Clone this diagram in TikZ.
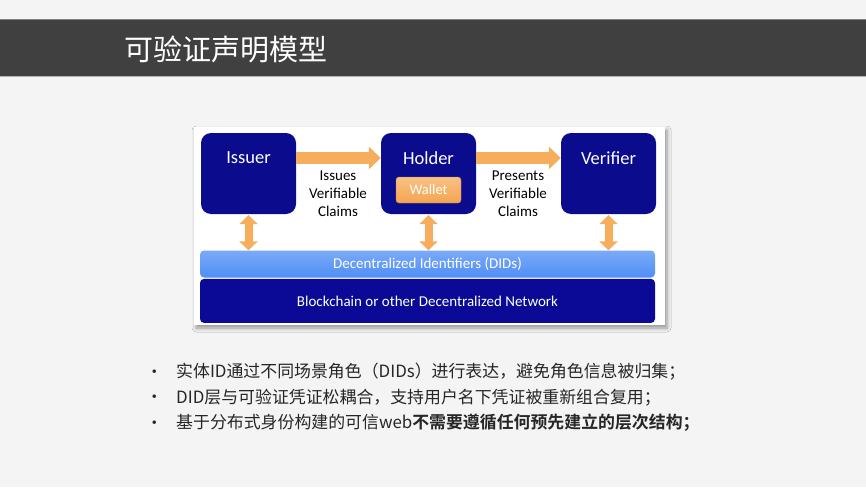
\documentclass[tikz,border=0pt]{standalone}
\usepackage{fontspec}
\setmainfont{Carlito}
\newfontfamily\cjk{Noto Sans CJK SC}[BoldFont={Noto Sans CJK SC Bold}]
\usepackage{tikz}
\usetikzlibrary{positioning,arrows.meta,shadows.blur}

\definecolor{slide}{HTML}{F4F4F4}
\definecolor{titlebar}{HTML}{404040}
\definecolor{navy}{HTML}{0B0B8E}
\definecolor{chainblue}{HTML}{0A0A96}
\definecolor{didblue}{HTML}{4F8EF5}
\definecolor{flow}{HTML}{F6AE5C}
\definecolor{wallet}{HTML}{F5A550}
\definecolor{textgray}{HTML}{262626}

\begin{document}
\begin{tikzpicture}[x=1pt, y=-1pt, inner sep=0pt,
  actor/.style={rectangle, rounded corners=10pt, fill=navy, minimum width=95pt, minimum height=81pt},
  role/.style={text=white, font=\fontsize{18.5}{22}\selectfont},
  claim/.style={align=center, font=\fontsize{15}{18}\selectfont},
  purse/.style={rectangle, rounded corners=3pt, top color=wallet!70!white, bottom color=wallet, draw=wallet!80!black, line width=0.4pt, minimum width=65pt, minimum height=26pt, text=white, font=\fontsize{14.5}{16}\selectfont},
  layer/.style={rectangle, rounded corners=4pt, minimum width=455pt, text=white, font=\fontsize{15}{17}\selectfont},
  bigarrow/.style={flow, line width=12pt, -{Triangle[width=22pt,length=12pt]}},
  updown/.style={flow, line width=8pt, {Triangle[width=18pt,length=9pt]}-{Triangle[width=18pt,length=9pt]}},
  point/.style={anchor=west, text=textgray, font=\cjk\fontsize{16.9}{20}\selectfont, label={[text=textgray, label distance=19pt]left:\textbullet}}]
  \useasboundingbox (0,0) rectangle (866,487);
  \fill[slide] (0,0) rectangle (866,487);

  % title bar
  \fill[titlebar] (0,20) rectangle (866,76);
  \draw[gray, line width=1pt] (0,20) -- (866,20);
  \draw[gray!60, line width=1pt] (0,76) -- (866,76);
  \node[anchor=west, text=white, font=\cjk\fontsize{29}{33}\selectfont] (title) at (124,49) {可验证声明模型};

  % picture frame
  \fill[white, blur shadow={shadow xshift=2pt, shadow yshift=-3pt, shadow blur radius=4pt}] (194,127) rectangle (665,325);

  % actors
  \node[actor] (issuer) at (248.5,173.5) {};
  \node[actor] (holder) at (428.5,173.5) {};
  \node[actor] (verifier) at (608.5,173.5) {};
  \node[role] at ([yshift=-25pt]issuer.north) {Issuer};
  \node[role] at ([yshift=-25pt]holder.north) {Holder};
  \node[role] at ([yshift=-25pt]verifier.north) {Verifier};
  \node[purse] (purse) at ([yshift=-16.5pt]holder.center) {Wallet};

  % layers
  \node[layer, minimum height=27pt, top color=didblue!75!white, bottom color=didblue] (dids) at (427.5,264) {Decentralized Identifiers (DIDs)};
  \node[layer, minimum height=44pt, fill=chainblue, below=1pt of dids] (chain) {Blockchain or other Decentralized Network};

  % flows
  \draw[bigarrow] ([yshift=15.5pt]issuer.east) -- ([yshift=15.5pt]holder.west);
  \draw[bigarrow] ([yshift=15.5pt]holder.east) -- ([yshift=15.5pt]verifier.west);
  \node[claim] (issues) at (338,194) {Issues\\Verifiable\\Claims};
  \node[claim] (presents) at (518,194) {Presents\\Verifiable\\Claims};
  \draw[updown] ([yshift=-1pt]issuer.south) -- (issuer.south |- dids.north);
  \draw[updown] ([yshift=-1pt]holder.south) -- (holder.south |- dids.north);
  \draw[updown] ([yshift=-1pt]verifier.south) -- (verifier.south |- dids.north);

  % bullets
  \node[point] (p1) at (176,372) {实体ID通过不同场景角色（DIDs）进行表达，避免角色信息被归集；};
  \node[point] (p2) at (176,397.5) {DID层与可验证凭证松耦合，支持用户名下凭证被重新组合复用；};
  \node[point] (p3) at (176,423) {基于分布式身份构建的可信web\textbf{不需要遵循任何预先建立的层次结构；}};
\end{tikzpicture}
\end{document}
